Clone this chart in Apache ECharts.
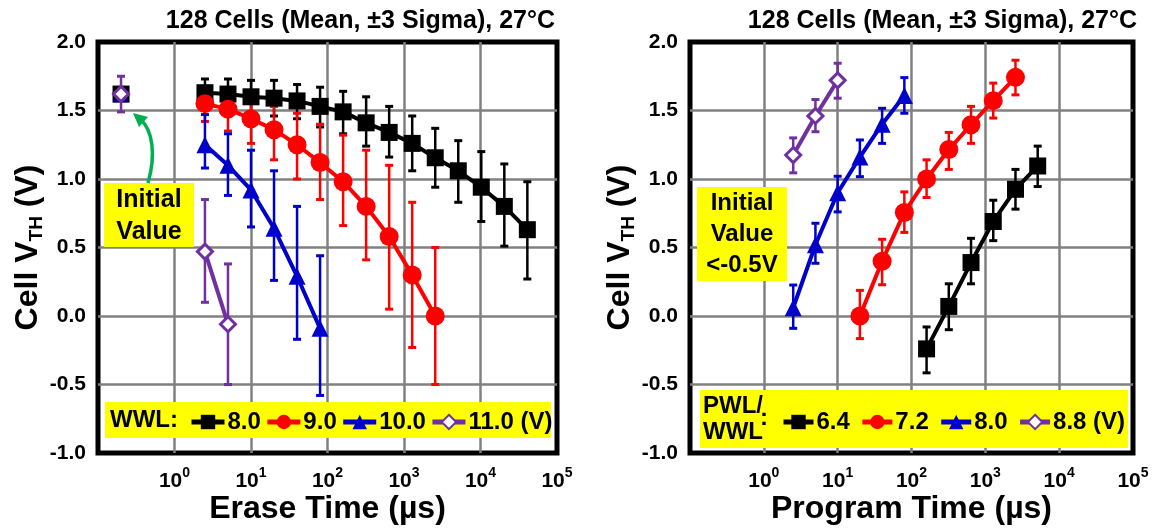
<!DOCTYPE html>
<html><head><meta charset="utf-8">
<script src="https://cdn.jsdelivr.net/npm/echarts@6/dist/echarts.min.js"></script>
<style>html,body{margin:0;padding:0;background:#fff}#c{width:1165px;height:529px}</style>
</head><body><div id="c"></div>
<script>
// ---------- DATA ----------
const titleText = '128 Cells (Mean, \u00b13 Sigma), 27\u00b0C';
const yTicks = [-1.0, -0.5, 0.0, 0.5, 1.0, 1.5, 2.0];
const xDecades = [0.1, 1, 10, 100, 1000, 10000, 100000];

// Left panel: Erase (WWL)
const eraseInitTime = [0.2];
const eraseInitMean = [1.62];
const eraseInitLo = [1.49];
const eraseInitHi = [1.75];

const eraseTime = [2.5, 5, 10, 20, 40, 80, 160, 320, 640, 1280, 2560, 5120, 10240, 20480, 40960];
const e80Mean = [1.63, 1.62, 1.60, 1.59, 1.57, 1.53, 1.49, 1.41, 1.34, 1.26, 1.155, 1.06, 0.94, 0.80, 0.63];
const e80Lo   = [1.53, 1.51, 1.49, 1.46, 1.44, 1.38, 1.33, 1.24, 1.16, 1.06, 0.94, 0.83, 0.69, 0.51, 0.27];
const e80Hi   = [1.73, 1.73, 1.72, 1.72, 1.69, 1.67, 1.64, 1.60, 1.53, 1.46, 1.37, 1.28, 1.20, 1.11, 0.98];
const e90Mean = [1.55, 1.51, 1.44, 1.36, 1.25, 1.12, 0.98, 0.80, 0.58, 0.30, 0.00];
const e90Lo   = [1.42, 1.35, 1.26, 1.14, 1.00, 0.85, 0.66, 0.41, 0.05, -0.23, -0.50];
const e90Hi   = [1.67, 1.64, 1.58, 1.53, 1.48, 1.40, 1.32, 1.21, 1.10, 0.83, 0.50];
const e100Mean = [1.25, 1.10, 0.92, 0.64, 0.29, -0.09];
const e100Lo   = [1.08, 0.88, 0.65, 0.26, -0.17, -0.58];
const e100Hi   = [1.47, 1.33, 1.21, 1.06, 0.80, 0.44];
const e110Mean = [0.47, -0.06];
const e110Lo   = [0.10, -0.50];
const e110Hi   = [0.85, 0.38];

// Right panel: Program (PWL/WWL)
const p64Time = [160, 320, 640, 1280, 2560, 5120];
const p64Mean = [-0.24, 0.07, 0.39, 0.69, 0.925, 1.095];
const p64Lo   = [-0.415, -0.10, 0.235, 0.55, 0.78, 0.945];
const p64Hi   = [-0.08, 0.235, 0.567, 0.845, 1.07, 1.24];
const p72Time = [20, 40, 80, 160, 320, 640, 1280, 2560];
const p72Mean = [0.00, 0.40, 0.756, 1.00, 1.215, 1.396, 1.572, 1.742];
const p72Lo   = [-0.165, 0.228, 0.61, 0.865, 1.07, 1.26, 1.445, 1.614];
const p72Hi   = [0.187, 0.56, 0.906, 1.14, 1.34, 1.53, 1.70, 1.867];
const p80Time = [2.5, 5, 10, 20, 40, 80];
const p80Mean = [0.06, 0.52, 0.90, 1.16, 1.40, 1.61];
const p80Lo   = [-0.09, 0.385, 0.76, 1.017, 1.26, 1.48];
const p80Hi   = [0.226, 0.677, 1.02, 1.285, 1.516, 1.74];
const p88Time = [2.5, 5, 10];
const p88Mean = [1.175, 1.46, 1.72];
const p88Lo   = [1.045, 1.345, 1.59];
const p88Hi   = [1.30, 1.58, 1.845];

const leftNames = ['8.0', '9.0', '10.0', '11.0'];
const rightNames = ['6.4', '7.2', '8.0', '8.8'];

// ---------- STYLE ----------
const FONT = 'Liberation Sans, Arial, sans-serif';
const C_BLACK = '#000000', C_RED = '#ff0000', C_BLUE = '#0000cc', C_PURPLE = '#7030a0';
const YELLOW = '#ffff00';

const zip = (xs, ys) => xs.map((x, i) => [x, ys[i]]);
const zip3 = (xs, lo, hi) => xs.map((x, i) => [x, lo[i], hi[i]]);

function errSeries(gi, xs, lo, hi, color, z) {
  return {
    type: 'custom', xAxisIndex: gi, yAxisIndex: gi, z: z || 2, silent: true,
    data: zip3(xs, lo, hi),
    encode: { x: 0, y: [1, 2] },
    renderItem: function (params, api) {
      const x = api.value(0);
      const a = api.coord([x, api.value(1)]);
      const b = api.coord([x, api.value(2)]);
      const w = 4;
      const st = { stroke: color, lineWidth: 2.5 };
      return { type: 'group', children: [
        { type: 'line', shape: { x1: a[0], y1: a[1], x2: b[0], y2: b[1] }, style: st },
        { type: 'line', shape: { x1: a[0] - w, y1: a[1], x2: a[0] + w, y2: a[1] }, style: { stroke: color, lineWidth: 3 } },
        { type: 'line', shape: { x1: b[0] - w, y1: b[1], x2: b[0] + w, y2: b[1] }, style: { stroke: color, lineWidth: 3 } }
      ]};
    }
  };
}

const SYM = {
  black: { symbol: 'rect', symbolSize: 17, color: C_BLACK },
  red: { symbol: 'circle', symbolSize: 19, color: C_RED },
  blue: { symbol: 'triangle', symbolSize: 17, color: C_BLUE },
  purple: { symbol: 'diamond', symbolSize: 15, color: C_PURPLE, hollow: true }
};

function lineSeries(gi, name, xs, ys, s, noLine) {
  return {
    type: 'line', name: name, xAxisIndex: gi, yAxisIndex: gi, z: 5,
    data: zip(xs, ys), symbol: s.symbol, symbolSize: s.symbolSize, showAllSymbol: true,
    lineStyle: { color: s.color, width: noLine ? 0 : 4 },
    itemStyle: s.hollow ? { color: '#ffffff', borderColor: s.color, borderWidth: 3 } : { color: s.color, borderColor: s.color, borderWidth: 0 },
    emphasis: { disabled: true }, animation: false
  };
}

function xAxisFor(gi, nameText) {
  return {
    type: 'log', logBase: 10, gridIndex: gi, min: xDecades[0], max: xDecades[xDecades.length - 1],
    name: nameText, nameLocation: 'middle', nameGap: 40, nameMoveOverlap: false,
    nameTextStyle: { fontFamily: FONT, fontWeight: 'bold', fontSize: 32, color: '#000', verticalAlign: 'top' },
    axisLine: { show: false }, axisTick: { show: false },
    splitLine: { show: true, showMinLine: false, showMaxLine: false, lineStyle: { color: '#808080', width: 2.5 } },
    axisLabel: {
      margin: 13, color: '#000',
      formatter: function (v) {
        if (v < 1) return '';
        return '{b|10}{s|' + Math.round(Math.log10(v)) + '}';
      },
      rich: {
        b: { fontFamily: FONT, fontWeight: 'bold', fontSize: 21, color: '#000', lineHeight: 26, verticalAlign: 'bottom' },
        s: { fontFamily: FONT, fontWeight: 'bold', fontSize: 14, color: '#000', lineHeight: 26, verticalAlign: 'top', padding: [0, 0, 12, 0] }
      }
    }
  };
}

function yAxisFor(gi) {
  return {
    type: 'value', gridIndex: gi, min: yTicks[0], max: yTicks[yTicks.length - 1], interval: 0.5,
    name: '{a|Cell V}{s|TH}{a| (V)}', nameLocation: 'middle', nameGap: 52, nameRotate: 90, nameMoveOverlap: false,
    nameTextStyle: {
      rich: {
        a: { fontFamily: FONT, fontWeight: 'bold', fontSize: 32, color: '#000', lineHeight: 36 },
        s: { fontFamily: FONT, fontWeight: 'bold', fontSize: 19, color: '#000', lineHeight: 36, verticalAlign: 'bottom', padding: [9, 0, 0, 0] }
      }
    },
    axisLine: { show: false }, axisTick: { show: false },
    splitLine: { show: true, showMinLine: false, showMaxLine: false, lineStyle: { color: '#808080', width: 2.5 } },
    axisLabel: { margin: 12, fontFamily: FONT, fontWeight: 'bold', fontSize: 21, color: '#000',
      formatter: v => v.toFixed(1) }
  };
}

const legendText = { fontFamily: FONT, fontWeight: 'bold', fontSize: 24, color: '#000', padding: [0, 0, 0, -2] };

const option = {
  animation: false,
  backgroundColor: '#ffffff',
  title: [
    { text: titleText, right: 605, top: 4, textStyle: { fontFamily: FONT, fontWeight: 'bold', fontSize: 25, color: '#000' } },
    { text: titleText, right: 23, top: 4, textStyle: { fontFamily: FONT, fontWeight: 'bold', fontSize: 25, color: '#000' } }
  ],
  grid: [
    { left: 98, top: 42, width: 459, height: 411, outerBoundsMode: 'none', containLabel: false, show: true, borderColor: '#000', borderWidth: 5, backgroundColor: 'transparent' },
    { left: 690, top: 42, width: 443, height: 411, outerBoundsMode: 'none', containLabel: false, show: true, borderColor: '#000', borderWidth: 5, backgroundColor: 'transparent' }
  ],
  xAxis: [xAxisFor(0, 'Erase Time (\u00b5s)'), xAxisFor(1, 'Program Time (\u00b5s)')],
  yAxis: [yAxisFor(0), yAxisFor(1)],
  legend: [
    {
      left: 184, top: 405, z: 10, itemWidth: 33, itemHeight: 18, itemGap: 4, selectedMode: false,
      data: ['L8.0', 'L9.0', 'L10.0', 'L11.0'],
      formatter: n => n.slice(1) + (n === 'L11.0' ? ' (V)' : ''),
      lineStyle: { width: 5 },
      textStyle: legendText
    },
    {
      left: 776, top: 405, z: 10, itemWidth: 30, itemHeight: 18, itemGap: 10, selectedMode: false,
      data: ['R6.4', 'R7.2', 'R8.0', 'R8.8'],
      formatter: n => n.slice(1) + (n === 'R8.8' ? ' (V)' : ''),
      lineStyle: { width: 5 },
      textStyle: legendText
    }
  ],
  graphic: [
    // legend backgrounds
    { type: 'rect', z: 8, shape: { x: 105, y: 402, width: 446, height: 36 }, style: { fill: YELLOW } },
    { type: 'text', z: 11, style: { x: 110, y: 420, text: 'WWL:', fontFamily: FONT, fontWeight: 'bold', fontSize: 24, fill: '#000', verticalAlign: 'middle' } },
    { type: 'rect', z: 8, shape: { x: 700, y: 390, width: 428, height: 58 }, style: { fill: YELLOW } },
    { type: 'text', z: 11, style: { x: 703, y: 419, text: 'PWL/\nWWL', lineHeight: 26, fontFamily: FONT, fontWeight: 'bold', fontSize: 24, fill: '#000', verticalAlign: 'middle' } },
    { type: 'text', z: 11, style: { x: 760, y: 418, text: ':', fontFamily: FONT, fontWeight: 'bold', fontSize: 24, fill: '#000', verticalAlign: 'middle' } },
    // annotation boxes
    { type: 'rect', z: 8, shape: { x: 104, y: 183, width: 90, height: 64 }, style: { fill: YELLOW } },
    { type: 'text', z: 11, style: { x: 149, y: 216, text: 'Initial\nValue', lineHeight: 32, align: 'center', verticalAlign: 'middle', fontFamily: FONT, fontWeight: 'bold', fontSize: 25, fill: '#000' } },
    { type: 'rect', z: 8, shape: { x: 697, y: 187, width: 90, height: 94 }, style: { fill: YELLOW } },
    { type: 'text', z: 11, style: { x: 742, y: 234, text: 'Initial\nValue\n<-0.5V', lineHeight: 31, align: 'center', verticalAlign: 'middle', fontFamily: FONT, fontWeight: 'bold', fontSize: 24, fill: '#000' } },
    // green arrow
    { type: 'bezierCurve', z: 11, shape: { x1: 148, y1: 183, cpx1: 156, cpy1: 155, cpx2: 153, cpy2: 130, x2: 140, y2: 119 }, style: { stroke: '#00b050', lineWidth: 3.5, fill: null } },
    { type: 'polygon', z: 11, shape: { points: [[133, 113], [148, 117], [139, 127]] }, style: { fill: '#00b050' } }
  ],
  series: [
    // error bars (left)
    errSeries(0, eraseTime.slice(0, e80Mean.length), e80Lo, e80Hi, C_BLACK),
    errSeries(0, eraseTime.slice(0, e90Mean.length), e90Lo, e90Hi, C_RED),
    errSeries(0, eraseTime.slice(0, e100Mean.length), e100Lo, e100Hi, C_BLUE),
    errSeries(0, eraseTime.slice(0, e110Mean.length), e110Lo, e110Hi, C_PURPLE),
    // lines (left)
    lineSeries(0, 'L8.0', eraseTime.slice(0, e80Mean.length), e80Mean, SYM.black),
    lineSeries(0, 'L9.0', eraseTime.slice(0, e90Mean.length), e90Mean, SYM.red),
    lineSeries(0, 'L10.0', eraseTime.slice(0, e100Mean.length), e100Mean, SYM.blue),
    lineSeries(0, 'L11.0', eraseTime.slice(0, e110Mean.length), e110Mean, SYM.purple),
    // initial values (left), stacked at one point
    Object.assign(lineSeries(0, 'i9', eraseInitTime, eraseInitMean, { symbol: 'circle', symbolSize: 17, color: C_RED }, true), { z: 4 }),
    lineSeries(0, 'i8', eraseInitTime, eraseInitMean, SYM.black, true),
    Object.assign(lineSeries(0, 'i10', eraseInitTime, eraseInitMean, SYM.blue, true), { z: 5, itemStyle: { color: C_BLUE, opacity: 0.55 } }),
    errSeries(0, eraseInitTime, eraseInitLo, eraseInitHi, C_PURPLE, 6),
    Object.assign(lineSeries(0, 'i11', eraseInitTime, eraseInitMean, SYM.purple, true), { z: 7 }),
    // error bars (right)
    errSeries(1, p64Time, p64Lo, p64Hi, C_BLACK),
    errSeries(1, p72Time, p72Lo, p72Hi, C_RED),
    errSeries(1, p80Time, p80Lo, p80Hi, C_BLUE),
    errSeries(1, p88Time, p88Lo, p88Hi, C_PURPLE),
    // lines (right)
    lineSeries(1, 'R6.4', p64Time, p64Mean, SYM.black),
    lineSeries(1, 'R7.2', p72Time, p72Mean, SYM.red),
    lineSeries(1, 'R8.0', p80Time, p80Mean, SYM.blue),
    lineSeries(1, 'R8.8', p88Time, p88Mean, SYM.purple)
  ]
};

const chart = echarts.init(document.getElementById('c'), null, { renderer: 'canvas' });
chart.setOption(option);
</script>
</body></html>
